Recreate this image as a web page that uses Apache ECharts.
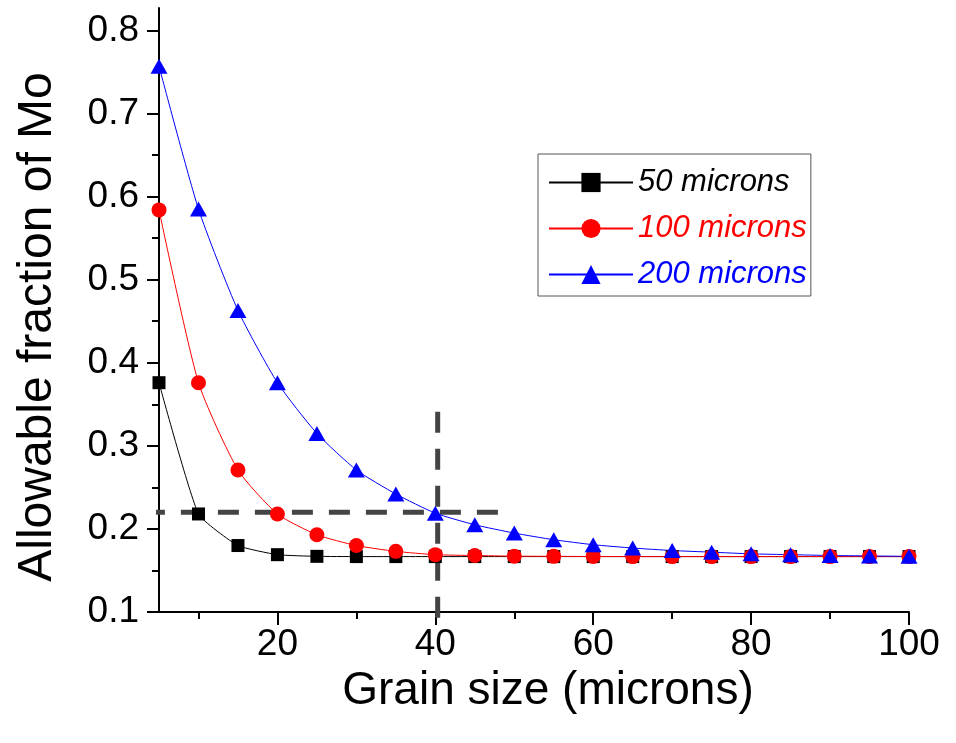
<!DOCTYPE html>
<html>
<head>
<meta charset="utf-8">
<script src="https://cdn.jsdelivr.net/npm/echarts@6/dist/echarts.min.js"></script>
<style>
    html, body { margin: 0; padding: 0; background: #fff; }
    #chart { width: 956px; height: 743px; }
</style>
</head>
<body>
<div id="chart"></div>
<script>
var grainSize = [5, 10, 15, 20, 25, 30, 35, 40, 45, 50, 55, 60, 65, 70, 75, 80, 85, 90, 95, 100];
var mo50 = [0.376, 0.218, 0.180, 0.169, 0.167, 0.1667, 0.1667, 0.1667, 0.1667, 0.1667,
    0.1667, 0.1667, 0.1667, 0.1667, 0.1667, 0.1667, 0.1667, 0.1667, 0.1667, 0.1667];
var mo100 = [0.584, 0.376, 0.271, 0.218, 0.193, 0.180, 0.173, 0.169, 0.168, 0.1672,
    0.167, 0.1668, 0.1667, 0.1667, 0.1667, 0.1667, 0.1667, 0.1667, 0.1667, 0.1667];
var mo200 = [0.757, 0.585, 0.463, 0.376, 0.315, 0.271, 0.242, 0.219, 0.205, 0.195,
    0.187, 0.181, 0.177, 0.174, 0.172, 0.170, 0.169, 0.168, 0.1675, 0.167];

var xMajor = [20, 40, 60, 80, 100];
var xMinor = [10, 30, 50, 70, 90];
var yMajor = [0.1, 0.2, 0.3, 0.4, 0.5, 0.6, 0.7, 0.8];
var yMinor = [0.15, 0.25, 0.35, 0.45, 0.55, 0.65, 0.75];

// guide lines (dashed)
var guideH = [[-1.6, 0.22], [48.4, 0.22]];
var guideV = [[40.3, 0.341], [40.3, 0.0904]];

function pairs(xs, ys) {
    return xs.map(function (x, i) { return [x, ys[i]]; });
}

var myChart = echarts.init(document.getElementById('chart'));

var font = '"Liberation Sans", Arial, sans-serif';
var axisLineStyle = { color: '#000', width: 2 };

var option = {
    animation: false,
    grid: { left: 159, right: 47, top: 8, bottom: 131 },
    legend: {
        orient: 'vertical',
        left: 538,
        top: 154,
        padding: [13, 4, 6, 10],
        itemGap: 15,
        itemWidth: 84,
        itemHeight: 24,
        borderColor: '#555',
        borderWidth: 1,
        textStyle: { fontFamily: font, fontStyle: 'italic', fontSize: 31, lineHeight: 30 },
        data: [
            { name: '50 microns', textStyle: { color: '#000' } },
            { name: '100 microns', textStyle: { color: '#ff0000' } },
            { name: '200 microns', textStyle: { color: '#0000ff' } }
        ]
    },
    xAxis: [
        {
            type: 'value',
            min: 5,
            max: 100,
            name: 'Grain size (microns)',
            nameLocation: 'middle',
            nameGap: 53,
            nameTextStyle: { fontFamily: font, fontSize: 46, color: '#000', padding: [0, 0, 0, 28] },
            axisLine: { lineStyle: axisLineStyle },
            axisTick: { customValues: xMajor, length: 13, lineStyle: { width: 2, color: '#000' } },
            axisLabel: { customValues: xMajor, margin: 14, fontFamily: font, fontSize: 37, color: '#000' },
            splitLine: { show: false }
        },
        {
            type: 'value',
            position: 'bottom',
            min: 5,
            max: 100,
            axisLine: { show: false },
            axisTick: { customValues: xMinor, length: 7, lineStyle: { width: 2, color: '#000' } },
            axisLabel: { show: false },
            splitLine: { show: false }
        }
    ],
    yAxis: [
        {
            type: 'value',
            min: 0.1,
            max: 0.827,
            name: 'Allowable fraction of Mo',
            nameLocation: 'middle',
            nameGap: 97,
            nameTextStyle: { fontFamily: font, fontSize: 48, color: '#000', padding: [0, 34, 0, 0] },
            axisLine: { show: true, lineStyle: axisLineStyle },
            axisTick: { show: true, customValues: yMajor, length: 12, lineStyle: { width: 2, color: '#000' } },
            axisLabel: {
                customValues: yMajor, margin: 20, fontFamily: font, fontSize: 37, color: '#000',
                formatter: function (v) { return v.toFixed(1); }
            },
            splitLine: { show: false }
        },
        {
            type: 'value',
            position: 'left',
            min: 0.1,
            max: 0.827,
            axisLine: { show: false },
            axisTick: { show: true, customValues: yMinor, length: 7, lineStyle: { width: 2, color: '#000' } },
            axisLabel: { show: false },
            splitLine: { show: false }
        }
    ],
    series: [
        {
            name: 'guideH',
            type: 'line',
            clip: false,
            symbol: 'none',
            lineStyle: { color: '#444', width: 5, type: [21, 16] },
            data: guideH
        },
        {
            name: 'guideV',
            type: 'line',
            clip: false,
            symbol: 'none',
            lineStyle: { color: '#444', width: 5, type: [21, 16] },
            data: guideV
        },
        {
            name: '50 microns',
            type: 'line',
            smooth: 0.15,
            symbol: 'rect',
            symbolSize: 13,
            itemStyle: { color: '#000' },
            lineStyle: { color: '#000', width: 1 },
            data: pairs(grainSize, mo50)
        },
        {
            name: '100 microns',
            type: 'line',
            smooth: 0.2,
            symbol: 'circle',
            symbolSize: 15,
            itemStyle: { color: '#ff0000' },
            lineStyle: { color: '#ff0000', width: 1 },
            data: pairs(grainSize, mo100)
        },
        {
            name: '200 microns',
            type: 'line',
            smooth: 0.2,
            symbol: 'triangle',
            symbolSize: [17, 15],
            itemStyle: { color: '#0000ff' },
            lineStyle: { color: '#0000ff', width: 1 },
            data: pairs(grainSize, mo200)
        }
    ]
};

myChart.setOption(option);

window.addEventListener("resize", function () {
    myChart.resize();
});
</script>
</body>
</html>
